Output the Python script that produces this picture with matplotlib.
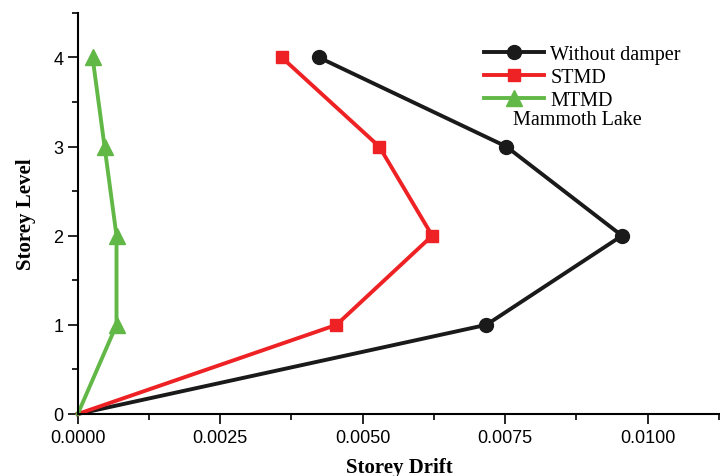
import matplotlib
matplotlib.use("Agg")
import matplotlib.pyplot as plt
from matplotlib.ticker import MultipleLocator

levels = [0, 1, 2, 3, 4]
without_damper = [0.0, 0.00717, 0.00955, 0.00752, 0.00423]
stmd = [0.0, 0.00454, 0.00622, 0.00529, 0.00358]
mtmd = [0.0, 0.00068, 0.00068, 0.00047, 0.00026]
x_ticks = [0.0, 0.0025, 0.0050, 0.0075, 0.0100]
x_tick_labels = ["0.0000", "0.0025", "0.0050", "0.0075", "0.0100"]
y_ticks = [0, 1, 2, 3, 4]

fig = plt.figure(figsize=(7.2, 4.77), dpi=100)
ax = fig.add_axes([0.108, 0.130, 0.892, 0.841])

mk = [1, 2, 3, 4]
ax.plot(without_damper, levels, color="#1a1a1a", lw=2.8, marker="o", ms=10, markevery=mk, label="Without damper")
ax.plot(stmd, levels, color="#ee2224", lw=2.8, marker="s", ms=9, markevery=mk, label="STMD")
ax.plot(mtmd, levels, color="#62b846", lw=2.8, marker="^", ms=11, markevery=mk, label="MTMD")

ax.set_xlim(0, 0.01127)
ax.set_ylim(0, 4.5)
ax.set_xticks(x_ticks)
ax.set_xticklabels(x_tick_labels)
ax.set_yticks(y_ticks)
ax.xaxis.set_minor_locator(MultipleLocator(0.00125))
ax.yaxis.set_minor_locator(MultipleLocator(0.5))
ax.tick_params(which="major", direction="out", length=7, width=1.2, labelsize=13)
ax.tick_params(which="minor", direction="out", length=4, width=1.2)
for lab in ax.get_xticklabels() + ax.get_yticklabels():
    lab.set_family("Liberation Sans")
for s in ["top", "right"]:
    ax.spines[s].set_visible(False)
for s in ["left", "bottom"]:
    ax.spines[s].set_linewidth(1.5)
for ln in ax.lines:
    ln.set_clip_on(False)

ax.set_xlabel("Storey Drift", family="Liberation Serif", fontweight="bold", fontsize=15, labelpad=8)
ax.set_ylabel("Storey Level", family="Liberation Serif", fontweight="bold", fontsize=15, labelpad=12)

leg = ax.legend(loc="upper left", bbox_to_anchor=(0.62, 0.94), frameon=False,
                prop={"family": "Liberation Serif", "size": 14.5}, handlelength=3.0,
                handletextpad=0.3, labelspacing=0.2, borderaxespad=0)
fig.text(0.713, 0.737, "Mammoth Lake", family="Liberation Serif", fontsize=14.5)

fig.savefig("out.png", dpi=100)
